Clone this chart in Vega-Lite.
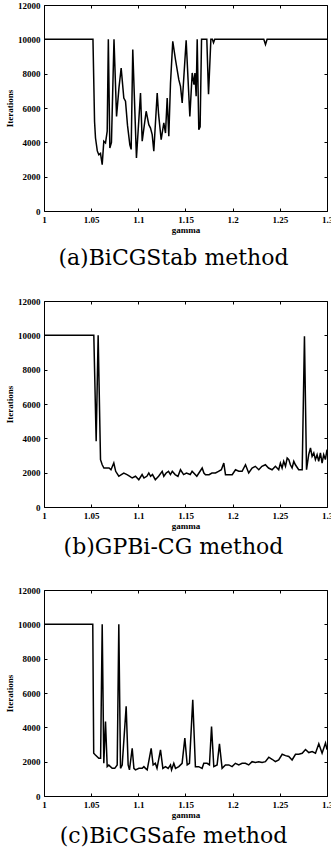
{
  "$schema": "https://vega.github.io/schema/vega-lite/v6.json",
  "padding": {"left": 5, "top": 1, "right": 0, "bottom": 0},
  "spacing": 28,
  "datasets": {
    "a": [
      {"g":1.0,"it":10000},{"g":1.05,"it":10000},{"g":1.0519,"it":10000},{"g":1.0536,"it":5200},{"g":1.0546,"it":4250},{"g":1.0565,"it":3500},
      {"g":1.0581,"it":3280},{"g":1.0599,"it":3360},{"g":1.0617,"it":2700},{"g":1.0634,"it":4060},{"g":1.0652,"it":3960},
      {"g":1.067,"it":4650},{"g":1.0682,"it":10000},{"g":1.0698,"it":3670},{"g":1.0715,"it":4000},{"g":1.0742,"it":10000},
      {"g":1.0769,"it":5510},{"g":1.0795,"it":7200},{"g":1.0818,"it":8330},{"g":1.0846,"it":6580},{"g":1.0864,"it":6400},
      {"g":1.0885,"it":5000},{"g":1.091,"it":3860},{"g":1.0924,"it":3590},{"g":1.0941,"it":9400},{"g":1.098,"it":3090},
      {"g":1.1023,"it":6870},{"g":1.1041,"it":4070},{"g":1.1083,"it":5810},{"g":1.1111,"it":5030},{"g":1.1129,"it":4830},
      {"g":1.1147,"it":4450},{"g":1.1164,"it":3480},{"g":1.12,"it":6870},{"g":1.1215,"it":5610},{"g":1.1242,"it":4150},
      {"g":1.127,"it":5130},{"g":1.1288,"it":4540},{"g":1.1306,"it":6580},{"g":1.1323,"it":4350},{"g":1.1341,"it":7460},
      {"g":1.1365,"it":9880},{"g":1.1394,"it":8810},{"g":1.1429,"it":7650},{"g":1.1447,"it":7260},{"g":1.1465,"it":6290},
      {"g":1.1507,"it":9950},{"g":1.1546,"it":5510},{"g":1.1571,"it":8040},{"g":1.159,"it":7360},{"g":1.16,"it":8040},
      {"g":1.1613,"it":6680},{"g":1.1624,"it":10000},{"g":1.1641,"it":4740},{"g":1.1655,"it":4900},{"g":1.167,"it":10000},
      {"g":1.1726,"it":10000},{"g":1.1744,"it":6800},{"g":1.1769,"it":10000},{"g":1.1785,"it":10000},{"g":1.1797,"it":9800},
      {"g":1.181,"it":10000},{"g":1.233,"it":10000},{"g":1.2348,"it":9700},{"g":1.2365,"it":10000},{"g":1.3,"it":10000}
    ],
    "b": [
      {"g":1.0,"it":10000},{"g":1.0528,"it":10000},{"g":1.0553,"it":3830},{"g":1.0574,"it":10000},{"g":1.0599,"it":2760},
      {"g":1.0617,"it":2460},{"g":1.0635,"it":2270},{"g":1.066,"it":2270},{"g":1.069,"it":2270},{"g":1.071,"it":2170},
      {"g":1.074,"it":2560},{"g":1.076,"it":2080},{"g":1.0793,"it":1790},{"g":1.082,"it":1890},{"g":1.0846,"it":1980},
      {"g":1.088,"it":1890},{"g":1.091,"it":1790},{"g":1.0935,"it":1690},{"g":1.097,"it":1790},{"g":1.1005,"it":1590},
      {"g":1.104,"it":1890},{"g":1.106,"it":1690},{"g":1.109,"it":1790},{"g":1.1111,"it":1980},{"g":1.113,"it":1790},
      {"g":1.115,"it":1890},{"g":1.118,"it":1590},{"g":1.1215,"it":1790},{"g":1.1253,"it":2080},{"g":1.127,"it":1790},
      {"g":1.1295,"it":1980},{"g":1.132,"it":2080},{"g":1.134,"it":1890},{"g":1.136,"it":2080},{"g":1.139,"it":1890},
      {"g":1.142,"it":1790},{"g":1.1447,"it":2170},{"g":1.148,"it":1890},{"g":1.151,"it":1980},{"g":1.155,"it":1890},
      {"g":1.157,"it":2080},{"g":1.162,"it":1790},{"g":1.1677,"it":2270},{"g":1.1695,"it":1980},{"g":1.1712,"it":1880},
      {"g":1.175,"it":1880},{"g":1.178,"it":1980},{"g":1.1818,"it":1980},{"g":1.185,"it":2080},{"g":1.188,"it":2170},
      {"g":1.1906,"it":2560},{"g":1.1924,"it":1880},{"g":1.1995,"it":1880},{"g":1.203,"it":2170},{"g":1.2065,"it":2080},
      {"g":1.21,"it":2080},{"g":1.2136,"it":2460},{"g":1.217,"it":1980},{"g":1.2206,"it":2270},{"g":1.224,"it":2370},
      {"g":1.2277,"it":2170},{"g":1.231,"it":2370},{"g":1.2347,"it":2460},{"g":1.238,"it":2270},{"g":1.2418,"it":2170},
      {"g":1.2453,"it":2370},{"g":1.2488,"it":2170},{"g":1.2506,"it":2560},{"g":1.2524,"it":2270},{"g":1.2541,"it":2660},
      {"g":1.256,"it":2370},{"g":1.2578,"it":2850},{"g":1.2595,"it":2760},{"g":1.2612,"it":2460},{"g":1.263,"it":2270},
      {"g":1.2648,"it":2660},{"g":1.2665,"it":2460},{"g":1.27,"it":2170},{"g":1.2737,"it":2170},{"g":1.2761,"it":9940},
      {"g":1.2783,"it":2170},{"g":1.2806,"it":3050},{"g":1.2825,"it":3440},{"g":1.2842,"it":2950},{"g":1.286,"it":3150},
      {"g":1.2877,"it":2760},{"g":1.2895,"it":3050},{"g":1.2912,"it":2660},{"g":1.293,"it":3150},{"g":1.2948,"it":2560},
      {"g":1.2965,"it":3050},{"g":1.2983,"it":2760},{"g":1.3,"it":3340}
    ],
    "c": [
      {"g":1.0,"it":10000},{"g":1.0517,"it":10000},{"g":1.0527,"it":2490},{"g":1.0545,"it":2390},{"g":1.0581,"it":2200},
      {"g":1.06,"it":2200},{"g":1.0617,"it":10000},{"g":1.0634,"it":1905},{"g":1.0652,"it":4340},{"g":1.067,"it":1710},
      {"g":1.0687,"it":1800},{"g":1.0723,"it":1610},{"g":1.075,"it":1610},{"g":1.0776,"it":1810},{"g":1.0793,"it":10000},
      {"g":1.0811,"it":1610},{"g":1.0829,"it":1810},{"g":1.0871,"it":5220},{"g":1.0892,"it":1810},{"g":1.0906,"it":1520},
      {"g":1.0935,"it":2780},{"g":1.0953,"it":1610},{"g":1.097,"it":1520},{"g":1.1006,"it":1610},{"g":1.1041,"it":1610},
      {"g":1.1059,"it":1710},{"g":1.1076,"it":1610},{"g":1.1094,"it":1520},{"g":1.1136,"it":2780},{"g":1.1157,"it":1810},
      {"g":1.118,"it":1905},{"g":1.1198,"it":1610},{"g":1.1235,"it":2690},{"g":1.126,"it":1610},{"g":1.1288,"it":1710},
      {"g":1.1316,"it":1610},{"g":1.1341,"it":1810},{"g":1.1352,"it":1520},{"g":1.1376,"it":1905},{"g":1.1394,"it":1610},
      {"g":1.1429,"it":1710},{"g":1.1464,"it":1905},{"g":1.1493,"it":3370},{"g":1.1518,"it":1810},{"g":1.1542,"it":1905},
      {"g":1.1577,"it":5610},{"g":1.1605,"it":1710},{"g":1.164,"it":1710},{"g":1.1676,"it":1610},{"g":1.1694,"it":1905},
      {"g":1.1729,"it":1905},{"g":1.1754,"it":1810},{"g":1.1776,"it":4050},{"g":1.18,"it":1710},{"g":1.1835,"it":1810},
      {"g":1.186,"it":3040},{"g":1.1888,"it":1610},{"g":1.1923,"it":1810},{"g":1.1959,"it":1810},{"g":1.1994,"it":1710},
      {"g":1.2029,"it":1905},{"g":1.2065,"it":1810},{"g":1.21,"it":1905},{"g":1.2135,"it":1905},{"g":1.217,"it":1810},
      {"g":1.2206,"it":2000},{"g":1.2241,"it":1950},{"g":1.2277,"it":2000},{"g":1.2312,"it":1950},{"g":1.2347,"it":2000},
      {"g":1.2383,"it":2260},{"g":1.2418,"it":2140},{"g":1.2453,"it":2000},{"g":1.2488,"it":2100},{"g":1.2525,"it":2430},
      {"g":1.256,"it":2350},{"g":1.2595,"it":2300},{"g":1.263,"it":2100},{"g":1.2666,"it":2430},{"g":1.2701,"it":2430},
      {"g":1.2737,"it":2490},{"g":1.2772,"it":2710},{"g":1.2807,"it":2530},{"g":1.2843,"it":2590},{"g":1.2878,"it":2490},
      {"g":1.2913,"it":3040},{"g":1.2948,"it":2490},{"g":1.2984,"it":3090},{"g":1.3,"it":2700}
    ]
  },
  "config": {
    "view": {"stroke": null},
    "axis": {
      "domainColor": "black", "domainWidth": 1, "tickColor": "black", "tickSize": -3, "labelPadding": 7,
      "labelColor": "black", "titleColor": "black", "labelFont": "Liberation Serif", "labelFontWeight": "bold",
      "labelFontSize": 9, "titleFont": "Liberation Serif", "titleFontWeight": "bold", "titleFontSize": 9, "grid": false
    },
    "axisX": {"titlePadding": 1},
    "axisY": {"titlePadding": 3},
    "title": {"font": "DejaVu Serif", "fontSize": 22, "fontWeight": "normal", "color": "black", "orient": "bottom", "anchor": "middle", "dx": -12},
    "line": {"color": "black", "strokeWidth": 1.5}
  },
  "vconcat": [
    {
      "width": 283, "height": 206,
      "title": {"text": "(a)BiCGStab method", "offset": 14},
      "data": {"name": "a"},
      "layer": [
        {"mark": "line", "encoding": {
          "x": {"field": "g", "type": "quantitative", "scale": {"domain": [1, 1.3], "nice": false, "zero": false},
                "axis": {"orient": "bottom", "values": [1, 1.05, 1.1, 1.15, 1.2, 1.25, 1.3], "format": "~g", "labelFlush": false, "title": "gamma"}},
          "y": {"field": "it", "type": "quantitative", "scale": {"domain": [0, 12000], "nice": false},
                "axis": {"orient": "left", "values": [0, 2000, 4000, 6000, 8000, 10000, 12000], "format": "d", "title": "Iterations"}}
        }},
        {"mark": {"type": "line", "strokeOpacity": 0}, "encoding": {
          "x": {"field": "g", "type": "quantitative", "axis": {"orient": "top", "values": [1, 1.05, 1.1, 1.15, 1.2, 1.25, 1.3], "labels": false, "title": null}},
          "y": {"field": "it", "type": "quantitative", "axis": {"orient": "right", "values": [0, 2000, 4000, 6000, 8000, 10000, 12000], "labels": false, "title": null}}
        }}
      ],
      "resolve": {"axis": {"x": "independent", "y": "independent"}}
    },
    {
      "width": 283, "height": 206,
      "title": {"text": "(b)GPBi-CG method", "offset": 7},
      "data": {"name": "b"},
      "layer": [
        {"mark": "line", "encoding": {
          "x": {"field": "g", "type": "quantitative", "scale": {"domain": [1, 1.3], "nice": false, "zero": false},
                "axis": {"orient": "bottom", "values": [1, 1.05, 1.1, 1.15, 1.2, 1.25, 1.3], "format": "~g", "labelFlush": false, "title": "gamma"}},
          "y": {"field": "it", "type": "quantitative", "scale": {"domain": [0, 12000], "nice": false},
                "axis": {"orient": "left", "values": [0, 2000, 4000, 6000, 8000, 10000, 12000], "format": "d", "title": "Iterations"}}
        }},
        {"mark": {"type": "line", "strokeOpacity": 0}, "encoding": {
          "x": {"field": "g", "type": "quantitative", "axis": {"orient": "top", "values": [1, 1.05, 1.1, 1.15, 1.2, 1.25, 1.3], "labels": false, "title": null}},
          "y": {"field": "it", "type": "quantitative", "axis": {"orient": "right", "values": [0, 2000, 4000, 6000, 8000, 10000, 12000], "labels": false, "title": null}}
        }}
      ],
      "resolve": {"axis": {"x": "independent", "y": "independent"}}
    },
    {
      "width": 283, "height": 206,
      "title": {"text": "(c)BiCGSafe method", "offset": 7},
      "data": {"name": "c"},
      "layer": [
        {"mark": "line", "encoding": {
          "x": {"field": "g", "type": "quantitative", "scale": {"domain": [1, 1.3], "nice": false, "zero": false},
                "axis": {"orient": "bottom", "values": [1, 1.05, 1.1, 1.15, 1.2, 1.25, 1.3], "format": "~g", "labelFlush": false, "title": "gamma"}},
          "y": {"field": "it", "type": "quantitative", "scale": {"domain": [0, 12000], "nice": false},
                "axis": {"orient": "left", "values": [0, 2000, 4000, 6000, 8000, 10000, 12000], "format": "d", "title": "Iterations"}}
        }},
        {"mark": {"type": "line", "strokeOpacity": 0}, "encoding": {
          "x": {"field": "g", "type": "quantitative", "axis": {"orient": "top", "values": [1, 1.05, 1.1, 1.15, 1.2, 1.25, 1.3], "labels": false, "title": null}},
          "y": {"field": "it", "type": "quantitative", "axis": {"orient": "right", "values": [0, 2000, 4000, 6000, 8000, 10000, 12000], "labels": false, "title": null}}
        }}
      ],
      "resolve": {"axis": {"x": "independent", "y": "independent"}}
    }
  ]
}
